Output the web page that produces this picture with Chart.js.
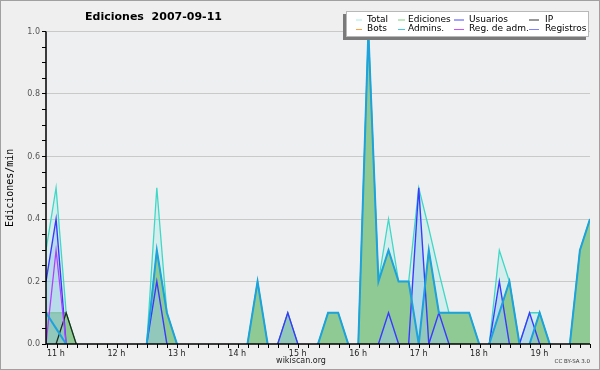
<!DOCTYPE html>
<html><head><meta charset="utf-8">
<script src="https://cdn.jsdelivr.net/npm/chart.js@4/dist/chart.umd.min.js"></script>
<style>html,body{margin:0;padding:0;background:#efefef;}#wrap{width:600px;height:370px;position:relative;}canvas{display:block}</style>
</head><body><div id="wrap"><canvas id="c" width="600" height="370"></canvas></div>
<script>
// ---- data (10-minute buckets, edits per minute) ----
const times = ["10:59","11:09","11:19","11:29","11:39","11:49","11:59","12:09","12:19","12:29","12:39","12:49","12:59","13:09","13:19","13:29","13:39","13:49","13:59","14:09","14:19","14:29","14:39","14:49","14:59","15:09","15:19","15:29","15:39","15:49","15:59","16:09","16:19","16:29","16:39","16:49","16:59","17:09","17:19","17:29","17:39","17:49","17:59","18:09","18:19","18:29","18:39","18:49","18:59","19:09","19:19","19:29","19:39","19:49","19:59"];
const total     = [0.3,0.5,0.1,0,0,0,0,0,0,0, 0,0.5,0.1,0,0,0,0,0,0,0, 0,0.2,0,0,0.1,0,0,0,0.1,0.1, 0,0,1.0,0.2,0.4,0.2,0.2,0.5,0.37,0.23, 0.1,0.1,0.1,0,0,0.3,0.2,0,0.1,0.1, 0,0,0,0.3,0.4];
const ediciones = [0.1,0.1,0.1,0,0,0,0,0,0,0, 0,0.3,0.1,0,0,0,0,0,0,0, 0,0.2,0,0,0.1,0,0,0,0.1,0.1, 0,0,1.0,0.2,0.3,0.2,0.2,0,0.3,0.1, 0.1,0.1,0.1,0,0,0.1,0.2,0,0,0.1, 0,0,0,0.3,0.4];
const usuarios  = [0.2,0.4,0,0,0,0,0,0,0,0, 0,0.2,0,0,0,0,0,0,0,0, 0,0,0,0,0.1,0,0,0,0,0, 0,0,0,0,0.1,0,0,0.5,0,0.1, 0,0,0,0,0,0.2,0,0,0.1,0, 0,0,0,0,0];
const ip        = [0,0,0.1,0,0,0,0,0,0,0, 0,0,0,0,0,0,0,0,0,0, 0,0,0,0,0,0,0,0,0,0, 0,0,0,0,0,0,0,0,0,0, 0,0,0,0,0,0,0,0,0,0, 0,0,0,0,0];
const bots      = [0,0,0,0,0,0,0,0,0,0, 0,0,0,0,0,0,0,0,0,0, 0,0,0,0,0,0,0,0,0,0, 0,0,0,0,0,0,0,0,0,0, 0,0,0,0,0,0,0,0,0,0, 0,0,0,0,0];
const admins    = [0.1,0.05,0,0,0,0,0,0,0,0, 0,0.3,0.1,0,0,0,0,0,0,0, 0,0.2,0,0,0,0,0,0,0.1,0.1, 0,0,1.0,0.2,0.3,0.2,0.2,0,0.3,0.1, 0.1,0.1,0.1,0,0,0.1,0.2,0,0,0.1, 0,0,0,0.3,0.4];
const regAdm    = [0,0.3,0,0,0,0,0,0,0,0, 0,0,0,0,0,0,0,0,0,0, 0,0,0,0,0,0,0,0,0,0, 0,0,0,0,0,0,0,0,0,0, 0,0,0,0,0,0,0,0,0,0, 0,0,0,0,0];
const registros = [0,0,0,0,0,0,0,0,0,0, 0,0,0,0,0,0,0,0,0,0, 0,0,0,0,0,0,0,0,0,0, 0,0,0,0,0,0,0,0,0,0, 0,0,0,0,0,0,0,0,0,0, 0,0,0,0,0];
const hourTickLabels = ["11 h","12 h","13 h","14 h","15 h","16 h","17 h","18 h","19 h"];
const yTickLabels = ["0.0","0.2","0.4","0.6","0.8","1.0"];
const titleText = "Ediciones  2007-09-11";
const yTitle = "Ediciones/min";

const toMin = s => { const [h,m] = s.split(':').map(Number); return h*60+m; };
const xs = times.map(toMin);
const pts = arr => arr.map((v,i)=>({x:xs[i], y:v}));
const hourValues = hourTickLabels.map(l => parseInt(l,10)*60);
const xMin = xs[0], xMax = xs[xs.length-1];
const minorTicks = [];
for (let v = hourValues[0]; v < xMax; v += 10) minorTicks.push(v);
minorTicks.push(xMax);

const hideZero = { borderColor: c => (c.p0.parsed.y === 0 && c.p1.parsed.y === 0) ? 'rgba(0,0,0,0)' : undefined };

function ds(label, data, color, width, fill, bg, order, legendColor){
  return { label, data: pts(data), borderColor: color, borderWidth: width, fill: fill, backgroundColor: bg || color,
    pointRadius: 0, tension: 0, order, segment: hideZero, legendColor };
}
const datasets = [
  ds('Total', total, '#3fd8c6', 1.3, 'origin', 'rgba(64,224,208,0.14)', 9, '#a8ece4'),
  ds('Ediciones', ediciones, '#5cb85c', 1, 'origin', 'rgb(143,201,148)', 8, '#7fd07f'),
  ds('Usuarios', usuarios, '#3a3aff', 1.4, 'origin', 'rgba(150,200,235,0.45)', 7, '#4848ff'),
  ds('IP', ip, '#1e2e1e', 1.3, false, null, 5, '#333333'),
  ds('Bots', bots, '#ff9930', 1.3, false, null, 4, '#ffa040'),
  ds('Admins.', admins, '#1ea2dc', 2, false, null, 1, '#40c8e0'),
  ds('Reg. de adm.', regAdm, '#b040ff', 1.3, false, null, 3, '#c850ff'),
  ds('Registros', registros, '#8080ff', 1.3, false, null, 6, '#8080ff'),
];

const decor = {
  id: 'decor',
  beforeDraw(chart){
    const {ctx, chartArea:a} = chart;
    ctx.save();
    ctx.fillStyle = '#efefef'; ctx.fillRect(0,0,chart.width,chart.height);
    ctx.fillStyle = '#eeeff1'; ctx.fillRect(a.left, a.top, a.right-a.left, a.bottom-a.top);
    ctx.restore();
  },
  afterDatasetsDraw(chart){
    const {ctx, chartArea:a} = chart;
    ctx.save();
    ctx.strokeStyle = '#000'; ctx.lineWidth = 1.5;
    ctx.beginPath();
    ctx.moveTo(a.left, a.top); ctx.lineTo(a.left, a.bottom);
    ctx.moveTo(a.left, a.bottom); ctx.lineTo(a.right, a.bottom);
    ctx.stroke();
    ctx.restore();
  },
  afterDraw(chart){
    const {ctx} = chart;
    ctx.save();
    // frame
    ctx.strokeStyle = '#a0a0a0'; ctx.lineWidth = 1; ctx.strokeRect(0.5,0.5,chart.width-1,chart.height-1);
    // title
    ctx.fillStyle = '#000'; ctx.font = 'bold 11px "DejaVu Sans"'; ctx.textAlign='center'; ctx.textBaseline='middle';
    ctx.fillText(titleText, 153.5, 17);
    // footer
    ctx.font = '8px "DejaVu Sans"'; ctx.fillStyle='#222';
    ctx.fillText('wikiscan.org', 301, 361);
    ctx.font = '5.5px "DejaVu Sans"'; ctx.textAlign='right'; ctx.fillStyle='#333';
    ctx.fillText('CC BY-SA 3.0', 590, 362);
    // legend box
    const bx = 346, by = 11, bw = 243, bh = 26;
    ctx.fillStyle = '#7a7a7a'; ctx.fillRect(bx-3, by+3, bw, bh);
    ctx.fillStyle = '#ffffff'; ctx.fillRect(bx, by, bw, bh);
    ctx.strokeStyle = '#b8b8b8'; ctx.lineWidth=1; ctx.strokeRect(bx+0.5, by+0.5, bw-1, bh-1);
    const cols = [[356,362,367],[398,405,408],[454,464,469],[529,539,545]];
    const rows = [19.5, 29];
    ctx.font = '9px "DejaVu Sans"'; ctx.textAlign='left'; ctx.textBaseline='middle';
    chart.data.datasets.forEach((d,i)=>{
      const c = cols[i%4], r = rows[Math.floor(i/4)];
      ctx.strokeStyle = d.legendColor; ctx.lineWidth = 1;
      ctx.beginPath(); ctx.moveTo(c[0], r+0.5); ctx.lineTo(c[1], r+0.5); ctx.stroke();
      ctx.fillStyle = '#000'; ctx.fillText(d.label, c[2], r);
    });
    ctx.restore();
  }
};

new Chart(document.getElementById('c'), {
  type: 'line',
  data: { datasets },
  options: {
    responsive: false, animation: false, devicePixelRatio: 1,
    layout: { padding: { top: 31.5, right: 10, left: 0, bottom: 0 } },
    plugins: { legend: { display: false }, tooltip: { enabled: false }, title: { display: false } },
    elements: { line: { borderJoinStyle: 'miter' } },
    scales: {
      x: {
        type: 'linear', min: xMin, max: xMax,
        afterBuildTicks: s => { s.ticks = minorTicks.map(v => ({ value: v })); },
        afterFit: s => { s.height = 26; },
        border: { display: false },
        grid: { drawOnChartArea: false, drawTicks: true, tickLength: 4, tickColor: '#000', tickWidth: 1 },
        ticks: { autoSkip: false, maxRotation: 0, minRotation: 0, align: 'start', padding: 1, color: '#222',
          font: { family: 'DejaVu Sans', size: 8 },
          callback: v => { const i = hourValues.indexOf(v); return i >= 0 ? hourTickLabels[i] : ''; } }
      },
      y: {
        type: 'linear', min: 0, max: 1,
        afterBuildTicks: s => { const t = []; for (let i = 0; i <= 20; i++) t.push({ value: i/20 }); s.ticks = t; },
        afterFit: s => { s.width = 46; },
        border: { display: false },
        grid: { drawTicks: true, tickLength: 4, tickColor: '#000',
          color: c => { const v = c.tick ? c.tick.value : 0; const m = Math.round(v*20); return (m % 4 === 0 && m > 0) ? '#c9c9c9' : 'rgba(0,0,0,0)'; } },
        ticks: { autoSkip: false, padding: 2, color: '#555', font: { family: 'DejaVu Sans', size: 8 },
          callback: v => { const m = Math.round(v*20); return m % 4 === 0 ? yTickLabels[m/4] : ''; } },
        title: { display: true, text: yTitle, color: '#000', font: { family: 'DejaVu Sans Mono', size: 10 }, padding: { top: 4, bottom: 0 } }
      }
    }
  },
  plugins: [decor]
});
</script>
</body></html>
